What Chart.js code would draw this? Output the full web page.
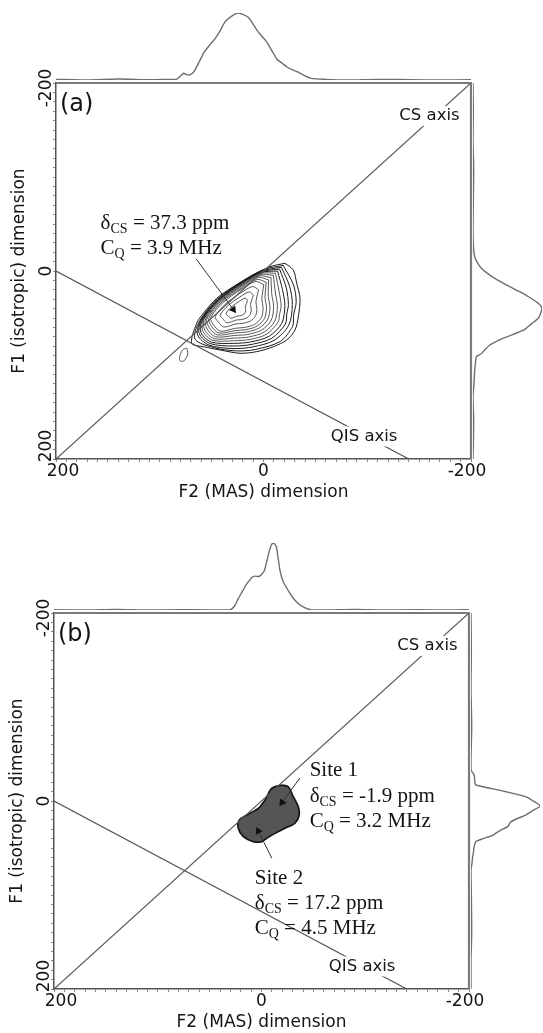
<!DOCTYPE html>
<html>
<head>
<meta charset="utf-8">
<script src="https://cdn.jsdelivr.net/npm/chart.js@4.4.1/dist/chart.umd.min.js"></script>
<style>
  html, body { margin: 0; padding: 0; background: #fff; overflow: hidden; }
  #wrap { position: relative; width: 543px; height: 1033px; }
  .panel { position: absolute; width: 543px; height: 500px; }
  .panel canvas { position: absolute; }
</style>
</head>
<body>
<div id="wrap">
  <div class="panel" style="left:0;top:0">
    <canvas id="mainA" width="543" height="500" style="left:0;top:0"></canvas>
    <canvas id="topA" width="415" height="73" style="left:56px;top:10px"></canvas>
    <canvas id="sideA" width="73" height="376" style="left:470px;top:83px"></canvas>
  </div>
  <div class="panel" style="left:-2px;top:530px">
    <canvas id="mainB" width="543" height="500" style="left:0;top:0"></canvas>
    <canvas id="topB" width="415" height="73" style="left:56px;top:10px"></canvas>
    <canvas id="sideB" width="73" height="376" style="left:470px;top:83px"></canvas>
  </div>
</div>
<script>
// ---- data (ppm) ----
const F2_TICKS = [200, 0, -200];
const F1_TICKS = [-200, 0, 200];
const CS_AXIS = [[200, 200], [-200, -200]];
const QIS_AXIS = [[200, 0], [-140, 200]];

// (a) projections: F2 ppm / intensity, F1 ppm / intensity
const topA_ppm = [200, 170, 140, 110, 90, 84, 80, 77, 74, 71, 67, 62, 57, 52, 47, 42, 37, 31, 25, 20, 15, 11, 7, 2, -3, -8, -13, -18, -23, -28, -33, -40, -46, -60, -80, -110, -140, -170, -200];
const topA_int = [1, 0, 1.5, 0.5, 1, 1, 6, 10, 8, 7.5, 12.5, 27, 42, 52, 61, 73, 87, 95, 100, 98, 94, 86, 76, 66, 57, 44, 31, 25, 19, 15, 12, 6, 2.5, 1, 0, 1, 0.5, 0, 0.5];
const sideA_ppm = [-200, -170, -140, -110, -75, -45, -22, -14, -8, -3, 2, 9, 15, 20, 24, 29, 33, 36, 40, 45, 50, 56, 63, 70, 74, 79, 84, 88, 91, 98, 105, 120, 134, 160, 200];
const sideA_int = [0, 0.5, 0, 1, 0.5, 0, 1, 3, 7, 12, 20, 34, 49, 62, 73, 84, 92, 97, 100, 98, 95, 85, 73, 49, 36, 24, 17, 12, 5, 3.5, 2.5, 1.5, 0, 1, 0];

// (a) contour loops, outermost first
const contoursA = [
  [[-20.7, -8.2], [-28.7, -1.1], [-32, 13.1], [-35.2, 29], [-33.6, 48.6], [-30.4, 62.8], [-22.4, 73.4], [-9.5, 80.5], [6.5, 85.8], [22.6, 87.5], [42, 84], [58, 80.5], [69.2, 76.9], [64.4, 55.6], [58, 45], [45.1, 29], [29.1, 16.7], [9.8, 4.3], [-6.3, -4.6]],
  [[-19, -6], [-29, 15], [-31.5, 33], [-29, 47], [-28, 59], [-16, 75], [8, 83.5], [26, 85], [48, 81.5], [66, 72.5], [62, 54], [44.6, 29.8], [20, 10.5], [0, -1.5]],
  [[-17.3, -4], [-25.2, 16.5], [-27.8, 35.8], [-24.3, 57.8], [-10.2, 73.7], [10, 80.7], [29.4, 82.5], [52.6, 78.8], [63.6, 67.8], [60.5, 52.6], [44.2, 30.5], [20.2, 11.3], [1, -0.2]],
  [[-15.5, -2], [-22, 18], [-24, 36], [-22.5, 45], [-21, 56.5], [-8, 71.5], [11, 78], [29, 79.8], [51.4, 77.2], [62, 66.5], [59.8, 52.4], [43.8, 30.8], [20.3, 12], [1.5, 0.7]],
  [[-13.6, 0], [-18.3, 20], [-20.6, 36.7], [-17.6, 55.7], [-5.4, 69.4], [12.1, 75.4], [28.8, 77], [50.2, 75.6], [60.3, 65.5], [59, 52.1], [43.4, 31], [20.4, 12.6], [2, 1.5]],
  [[-11.5, 2.3], [-15, 21.5], [-17, 37], [-15.5, 46], [-14, 54.5], [-3, 67.2], [13, 72.8], [28.5, 74.2], [48.8, 73.8], [58.4, 64.3], [58.1, 51.9], [42.9, 31.3], [20.5, 13.4], [2.6, 2.6]],
  [[-9.5, 4.5], [-11.5, 23.4], [-13.4, 37.5], [-10.8, 53.5], [-0.6, 65], [14.1, 70.2], [28.2, 71.4], [47.5, 72], [56.5, 63], [57.2, 51.6], [42.4, 31.6], [20.6, 14.2], [3.2, 3.7]],
  [[-7.2, 7], [-8, 25], [-9.8, 38], [-7.4, 52.5], [1.8, 62.8], [15.2, 67.5], [27.9, 68.6], [46, 70], [54.4, 61.6], [55.9, 51.2], [41.7, 32], [20.8, 15.3], [4.1, 5.2]],
  [[-4.9, 9.5], [-4.6, 26.9], [-6.2, 38.4], [-4.1, 51.4], [4.2, 60.7], [16.2, 64.9], [27.6, 65.9], [44.5, 68], [52.3, 60.2], [54.6, 50.8], [41, 32.4], [21, 16.4], [5, 6.8]],
  [[-2.6, 12], [-1.5, 28.5], [-2.9, 38.8], [-1, 50.4], [6.4, 58.8], [17.1, 62.4], [27.3, 63.4], [43, 66], [50.2, 58.8], [52.7, 50.2], [40, 33], [21.2, 18], [6.2, 9]],
  [[-0.3, 14.5], [1.6, 30.1], [0.4, 39.1], [2, 49.4], [8.6, 56.8], [18, 60], [27, 60.9], [41.5, 64], [48.1, 57.4], [50.9, 49.7], [39, 33.6], [21.5, 19.6], [7.5, 11.2]],
  [[4.8, 20], [7.3, 33], [6.4, 39.8], [7.6, 47.6], [12.6, 53.2], [19.7, 55.6], [26.6, 56.3], [38.2, 59.6], [43.5, 54.3], [46.5, 48.4], [36.6, 35], [22.1, 23.4], [10.5, 16.5]],
  [[9.8, 25.5], [12.5, 35.6], [11.8, 40.5], [12.7, 46], [16.2, 49.9], [21.3, 51.7], [26.1, 52.1], [34.9, 55.2], [38.9, 51.2], [41.7, 47], [34, 36.6], [22.7, 27.6], [13.7, 22.2]],
  [[15.3, 31.5], [17.6, 38.2], [17.2, 41.1], [17.7, 44.3], [19.8, 46.7], [22.8, 47.7], [25.7, 48], [31.3, 50.4], [33.8, 47.9], [36.1, 45.3], [31, 38.4], [23.5, 32.4], [17.5, 28.8]],
  [[74, 82], [78, 84], [81, 92], [80, 96], [76, 95], [73, 88]]
];
const pointerA = [[65, -13], [29, 41]];

// (b) projections
const topB_ppm = [200, 170, 140, 110, 80, 50, 35, 30, 26, 22.6, 18, 14.3, 11, 9, 6, 2.5, 0, -2.8, -5, -7.7, -9.5, -11.1, -13, -14.4, -16, -17.8, -20, -22.7, -27, -31.2, -36, -41, -47.7, -60, -90, -120, -150, -180, -200];
const topB_int = [0.5, 0, 1, 0, 0.5, 0, 0, 0.5, 6, 16.5, 29, 39, 45, 49, 50.5, 50, 53, 59, 72, 89, 97, 100, 98, 94, 78, 59, 46, 37, 26, 16.5, 9, 4, 0.5, 0, 1, 0, 0.5, 0, 0.5];
const sideB_ppm = [-200, -160, -120, -80, -45, -33, -27.7, -20, -17, -9.9, -4.6, 0, 5.3, 10, 14.9, 22, 27.3, 31, 36.2, 40, 43.3, 48.6, 55, 59.3, 66, 73.4, 100, 140, 170, 200];
const sideB_int = [0, 0.5, 0, 1, 0, 0, 4.6, 5.5, 7, 51, 79, 90, 100, 90, 79, 58, 53, 43, 32, 18, 7, 4.6, 3.5, 2.4, 1.5, 0, 0.5, 1, 0, 0];

// (b) contour loops, outermost first
const contoursB = [
  [[-19.5, -17], [-25.8, -15.2], [-30.7, -4.6], [-35.5, 6.1], [-36.4, 14.9], [-32.3, 23.7], [-22.7, 29], [-13, 34.4], [-5, 39.7], [-0.2, 43.3], [7.9, 43.3], [17.5, 38], [22.4, 29], [21.4, 20.2], [14.3, 14.9], [3.1, 7.8], [-3.4, -1.1], [-9.8, -13.5]],
  [[-19.6, -13.2], [-24.6, -11.8], [-28.6, -3.3], [-32.4, 5.3], [-33.1, 12.3], [-29.8, 19.4], [-17.2, 29.2], [-9.4, 33.5], [-3, 37.8], [0.8, 40.6], [7.3, 40.6], [15, 36.4], [18.9, 29.2], [18.1, 22.2], [12.4, 17.9], [-1.5, 6.6], [-6.7, -0.5], [-11.8, -10.4]],
  [[-19.7, -9.4], [-23.5, -8.3], [-26.4, -2], [-29.3, 4.5], [-29.8, 9.7], [-27.4, 15], [-11.6, 29.4], [-5.8, 32.6], [-1, 35.8], [1.9, 38], [6.7, 38], [12.5, 34.8], [15.4, 29.4], [14.8, 24.1], [10.6, 20.9], [-6.1, 5.5], [-10, 0.1], [-13.9, -7.3]],
  [[-19.8, -5.6], [-22.3, -4.9], [-24.3, -0.6], [-26.2, 3.6], [-26.6, 7.2], [-24.9, 10.7], [-6.1, 29.6], [-2.2, 31.8], [1, 33.9], [2.9, 35.3], [6.2, 35.3], [10, 33.2], [12, 29.6], [11.6, 26.1], [8.7, 24], [-10.8, 4.3], [-13.4, 0.8], [-15.9, -4.2]],
  [[-19.9, -1.8], [-21.2, -1.4], [-22.1, 0.7], [-23.1, 2.8], [-23.3, 4.6], [-22.5, 6.3], [-15.4, 3.2], [-16.7, 1.4], [-18, -1.1]],
  [[-0.5, 29.8], [1.4, 30.9], [3, 31.9], [4, 32.7], [5.6, 32.7], [7.5, 31.6], [8.5, 29.8], [8.3, 28], [6.9, 27]]
];
const pointerB1 = [[-37, -24.5], [-19.8, 1.6]];
const pointerB2 = [[-10, 61], [3.1, 31.9]];

// ---- annotation text ----
const notesA = [
  { at: [157, -45], gap: 25, lines: [['δ', 'CS', ' = 37.3 ppm'], ['C', 'Q', ' = 3.9 MHz']] }
];
const notesB = [
  { at: [-46.4, -26.6], gap: 25.7, lines: [['Site 1', '', ''], ['δ', 'CS', ' = -1.9 ppm'], ['C', 'Q', ' = 3.2 MHz']] },
  { at: [6.5, 88.8], gap: 25, lines: [['Site 2', '', ''], ['δ', 'CS', ' = 17.2 ppm'], ['C', 'Q', ' = 4.5 MHz']] }
];

const SANS = '"DejaVu Sans", sans-serif';
const SERIF = '"Liberation Serif", "Times New Roman", serif';
const INK = '#141414';

const pts = arr => arr.map(([x, y]) => ({ x, y }));
const loop = arr => pts(arr.concat([arr[0]]));

// draws frame, tick labels, titles and annotations on top of the datasets
const nmrText = {
  id: 'nmrText',
  afterDatasetsDraw(chart, args, o) {
    const { ctx, chartArea: ca, scales: { x, y } } = chart;
    ctx.save();
    ctx.strokeStyle = '#7a7a7a';
    ctx.lineWidth = 2.2;
    ctx.beginPath();
    ctx.moveTo(ca.left, ca.top);
    ctx.lineTo(ca.right, ca.top);
    ctx.lineTo(ca.right, ca.bottom);
    ctx.stroke();

    ctx.fillStyle = INK;
    ctx.font = '17px ' + SANS;
    ctx.textAlign = 'center';
    ctx.textBaseline = 'middle';
    const xShift = [7, 0, -4], yShift = [5, 0, -13];
    F2_TICKS.forEach((v, i) => ctx.fillText(String(v), x.getPixelForValue(v) + xShift[i], ca.bottom + 13));
    F1_TICKS.forEach((v, i) => {
      ctx.save();
      ctx.translate(47, y.getPixelForValue(v) + yShift[i]);
      ctx.rotate(-Math.PI / 2);
      ctx.fillText(String(v), 0, 0);
      ctx.restore();
    });
    ctx.fillText('F2 (MAS) dimension', (ca.left + ca.right) / 2, ca.bottom + 34);
    ctx.save();
    ctx.translate(20, (ca.top + ca.bottom) / 2);
    ctx.rotate(-Math.PI / 2);
    ctx.fillText('F1 (isotropic) dimension', 0, 0);
    ctx.restore();

    ctx.font = '24px ' + SANS;
    ctx.textAlign = 'left';
    ctx.fillText(o.letter, ca.left + 4, ca.top + 22);

    // axis names sit on their lines with a white backing
    ctx.font = '16.5px ' + SANS;
    ctx.textAlign = 'center';
    [['CS axis', o.csAt], ['QIS axis', o.qisAt]].forEach(([t, p]) => {
      const px = x.getPixelForValue(p[0]), py = y.getPixelForValue(p[1]);
      const w = ctx.measureText(t).width + 6;
      ctx.fillStyle = '#fff';
      ctx.fillRect(px - w / 2, py - 10, w, 20);
      ctx.fillStyle = INK;
      ctx.fillText(t, px, py);
    });

    ctx.textAlign = 'left';
    ctx.textBaseline = 'alphabetic';
    o.notes.forEach(n => {
      const x0 = x.getPixelForValue(n.at[0]), y0 = y.getPixelForValue(n.at[1]);
      n.lines.forEach(([main, sub, rest], k) => {
        let px = x0;
        const by = y0 + k * n.gap;
        ctx.font = '21px ' + SERIF;
        ctx.fillText(main, px, by);
        px += ctx.measureText(main).width;
        if (sub) {
          ctx.font = '14px ' + SERIF;
          ctx.fillText(sub, px, by + 4);
          px += ctx.measureText(sub).width;
        }
        ctx.font = '21px ' + SERIF;
        ctx.fillText(rest, px, by);
      });
    });
    ctx.restore();
  }
};

function axisLine(data) {
  return { data: pts(data), showLine: true, borderColor: '#555', borderWidth: 1.2, pointRadius: 0 };
}
function pointer(data, rot) {
  return {
    data: pts(data), showLine: true, borderColor: '#333', borderWidth: 1,
    pointRadius: [0, 4.5], pointStyle: 'triangle', pointRotation: [0, rot],
    pointBackgroundColor: '#111', pointBorderColor: '#111', pointBorderWidth: 0
  };
}

function mainChart(id, datasets, letter, notes) {
  return new Chart(document.getElementById(id), {
    type: 'scatter',
    data: { datasets },
    plugins: [nmrText],
    options: {
      responsive: false,
      animation: false,
      devicePixelRatio: 1,
      layout: { padding: { top: 83, right: 72, left: 0, bottom: 0 } },
      elements: { point: { radius: 0 } },
      plugins: {
        legend: { display: false },
        tooltip: { enabled: false },
        nmrText: { letter, notes, csAt: [-160, -165], qisAt: [-97, 176] }
      },
      scales: {
        x: {
          type: 'linear', min: -200, max: 200, reverse: true,
          ticks: { display: false, stepSize: 10 },
          grid: { drawOnChartArea: false, tickLength: 3, color: '#888' },
          border: { color: '#555', width: 1.5 },
          afterFit: s => { s.height = 41; }
        },
        y: {
          type: 'linear', min: -200, max: 200, reverse: true,
          ticks: { display: false, stepSize: 10 },
          grid: { drawOnChartArea: false, tickLength: 3, color: '#888' },
          border: { color: '#555', width: 1.5 },
          afterFit: s => { s.width = 56; }
        }
      }
    }
  });
}

function projChart(id, data, vertical) {
  const ppmAxis = { type: 'linear', display: false, min: -200, max: 200, reverse: true };
  const intAxis = { type: 'linear', display: false, min: 0, max: 100 };
  return new Chart(document.getElementById(id), {
    type: 'scatter',
    data: { datasets: [{ data, showLine: true, borderColor: '#6e6e6e', borderWidth: 1.4, pointRadius: 0, tension: 0.25 }] },
    options: {
      responsive: false,
      animation: false,
      devicePixelRatio: 1,
      layout: { padding: vertical ? { left: 3, right: 1, top: 0, bottom: 0 } : { top: 3, bottom: 3, left: 0, right: 0 } },
      plugins: { legend: { display: false }, tooltip: { enabled: false } },
      scales: vertical ? { x: intAxis, y: ppmAxis } : { x: ppmAxis, y: intAxis }
    }
  });
}

const zipXY = (xs, ys) => xs.map((x, i) => ({ x, y: ys[i] }));

// panel (a)
mainChart('mainA', [
  axisLine(CS_AXIS),
  axisLine(QIS_AXIS),
  pointer(pointerA, 143),
  ...contoursA.map((c, i) => ({
    data: loop(c), showLine: true, borderColor: i < 5 ? '#1a1a1a' : '#3a3a3a',
    borderWidth: i < 5 ? 1 : 0.85, pointRadius: 0, tension: 0.3
  }))
], '(a)', notesA);
projChart('topA', zipXY(topA_ppm, topA_int), false);
projChart('sideA', zipXY(sideA_int, sideA_ppm), true);

// panel (b)
mainChart('mainB', [
  axisLine(CS_AXIS),
  axisLine(QIS_AXIS),
  pointer(pointerB1, 216),
  pointer(pointerB2, -27),
  ...contoursB.map((c, i) => ({
    data: loop(c), showLine: true, pointRadius: 0, tension: 0.3,
    borderColor: i === 0 ? '#111' : '#7c7c7c', borderWidth: i === 0 ? 1.6 : 0.9,
    fill: i === 0 ? 'shape' : false, backgroundColor: '#555'
  }))
], '(b)', notesB);
projChart('topB', zipXY(topB_ppm, topB_int), false);
projChart('sideB', zipXY(sideB_int, sideB_ppm), true);
</script>
</body>
</html>
